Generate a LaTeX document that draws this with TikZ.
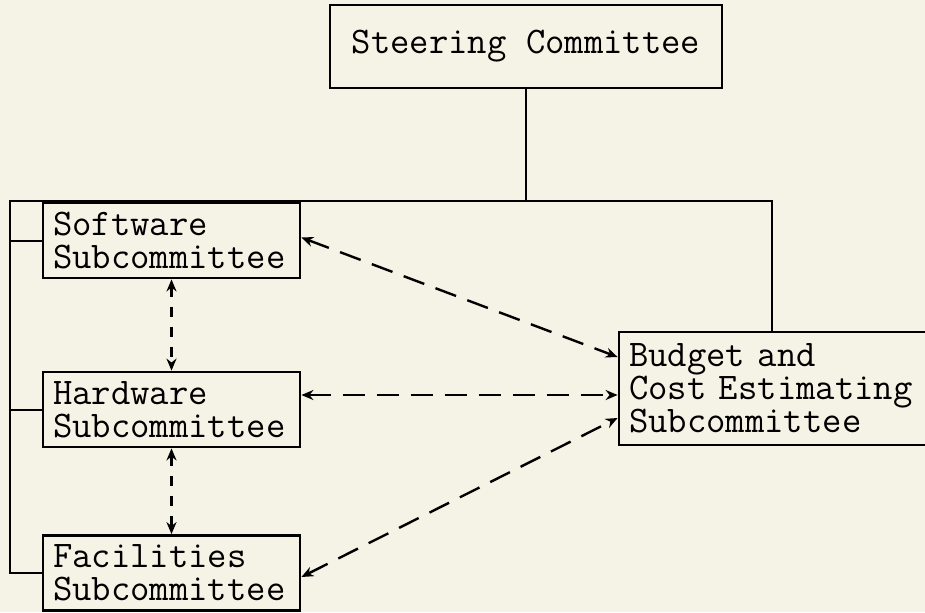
\documentclass[tikz,border=0pt]{standalone}
\usetikzlibrary{arrows.meta}
\definecolor{paper}{RGB}{245,243,230}
\newcommand\boxfont{\fontsize{18.8}{16.5}\selectfont\ttfamily\lineskiplimit=-100pt\relax}

\begin{document}
\begin{tikzpicture}[x=0.5pt,y=-0.5pt,
  box/.style={draw=black,line width=1.4pt,inner xsep=5pt,inner ysep=0pt,align=left,font=\boxfont},
  subbox/.style={box,minimum width=128.5pt,minimum height=37.5pt,text width=118.5pt},
  tie/.style={line width=1pt},
  link/.style={line width=1.2pt,dash pattern=on 11pt off 6pt,{Stealth[length=6pt,width=5pt]}-{Stealth[length=6pt,width=5pt]}},
  shortlink/.style={link,dash pattern=on 5pt off 5pt}]
\useasboundingbox (0,0) rectangle (925,612);
\fill[paper] (0,0) rectangle (925,612);
\clip (0,0) rectangle (925,612);
\node[box,minimum width=196pt,minimum height=41.5pt,align=center] (steer) at (526,46.5) {Steering Committee};
\node[subbox] (soft) at (171.5,240.5) {Software\\Subcommittee};
\node[subbox] (hard) at (171.5,409.5) {Hardware\\Subcommittee};
\node[subbox] (fac) at (171.5,573) {Facilities\\Subcommittee};
\node[box,minimum width=160.5pt,minimum height=56.5pt,text width=150.5pt] (budget) at (779.5,388.5)
  {Budget and\\Cost Estimating\\Subcommittee};
\coordinate (busL) at (10,201);
\coordinate (busR) at (772,201);
\draw[tie] (steer.south) -- (steer.south |- busL);
\draw[tie] (fac.west) -| (busL) -- (busR) -- (busR |- budget.north);
\draw[tie] (soft.west) -- (soft.west -| busL);
\draw[tie] (hard.west) -- (hard.west -| busL);
\draw[link] ([yshift=1.5pt]soft.east) -- ([yshift=15.75pt]budget.west);
\draw[link] ([yshift=7.25pt]hard.east) -- ([yshift=-3.25pt]budget.west);
\draw[link] ([yshift=-2pt]fac.east) -- ([yshift=-14.75pt]budget.west);
\draw[shortlink] (soft.south) -- (hard.north);
\draw[shortlink] (hard.south) -- (fac.north);
\end{tikzpicture}
\end{document}
